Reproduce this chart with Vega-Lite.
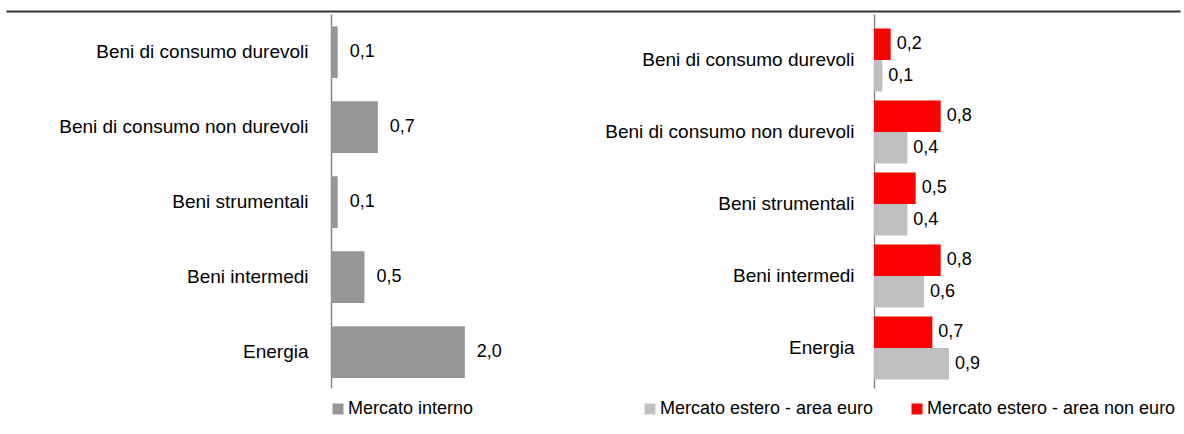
{
  "$schema": "https://vega.github.io/schema/vega-lite/v6.json",
  "padding": {"left": 6, "top": 11, "right": 0, "bottom": 0},
  "background": "white",
  "config": {
    "locale": {"number": {"decimal": ",", "thousands": ".", "grouping": [3], "currency": ["", " €"]}},
    "font": "Liberation Sans",
    "view": {"stroke": null}
  },
  "spacing": 2,
  "vconcat": [
    {
      "width": 1174,
      "height": 1,
      "data": {"values": []},
      "mark": "point",
      "encoding": {
        "x": {
          "field": "v", "type": "quantitative",
          "scale": {"domain": [0, 1]},
          "axis": {"orient": "top", "position": -325, "title": null, "labels": false, "ticks": false, "grid": false, "domainColor": "#333333", "domainWidth": 2}
        }
      }
    },
    {
      "spacing": 89,
      "resolve": {"scale": {"color": "independent"}, "legend": {"color": "independent"}},
      "hconcat": [
        {
          "width": 174,
          "height": 374,
          "data": {"values": [
            {"categoria": "Beni di consumo durevoli", "serie": "Mercato interno", "valore": 0.1},
            {"categoria": "Beni di consumo non durevoli", "serie": "Mercato interno", "valore": 0.7},
            {"categoria": "Beni strumentali", "serie": "Mercato interno", "valore": 0.1},
            {"categoria": "Beni intermedi", "serie": "Mercato interno", "valore": 0.5},
            {"categoria": "Energia", "serie": "Mercato interno", "valore": 2.0}
          ]},
          "encoding": {
            "y": {
              "field": "categoria", "type": "nominal",
              "sort": ["Beni di consumo durevoli", "Beni di consumo non durevoli", "Beni strumentali", "Beni intermedi", "Energia"],
              "scale": {"paddingInner": 0.31, "paddingOuter": 0.15, "align": 0.55},
              "axis": {"title": null, "ticks": false, "tickSize": 0, "labelPadding": 23, "labelFontSize": 19, "labelColor": "#000000", "labelLimit": 400, "domainColor": "#868686", "domainWidth": 1.5, "minExtent": 325, "maxExtent": 325, "grid": false}
            },
            "x": {"field": "valore", "type": "quantitative", "scale": {"domain": [0, 2.6], "nice": false}, "axis": null}
          },
          "layer": [
            {
              "mark": {"type": "bar"},
              "encoding": {
                "color": {
                  "field": "serie", "type": "nominal",
                  "scale": {"domain": ["Mercato interno"], "range": ["#969696"]},
                  "legend": {"title": null, "orient": "none", "legendX": -2, "legendY": 386, "direction": "horizontal", "symbolType": "square", "symbolSize": 121, "symbolStrokeWidth": 0, "labelFontSize": 18, "labelColor": "#000000", "labelOffset": 1, "padding": 0, "labelLimit": 400}
                }
              }
            },
            {
              "mark": {"type": "text", "align": "left", "baseline": "middle", "dx": 12, "fontSize": 18, "color": "#000000"},
              "encoding": {"text": {"field": "valore", "type": "quantitative", "format": ".1f"}}
            }
          ]
        },
        {
          "width": 100,
          "height": 374,
          "data": {"values": [
            {"categoria": "Beni di consumo durevoli", "serie": "Mercato estero - area non euro", "valore": 0.2},
            {"categoria": "Beni di consumo durevoli", "serie": "Mercato estero - area euro", "valore": 0.1},
            {"categoria": "Beni di consumo non durevoli", "serie": "Mercato estero - area non euro", "valore": 0.8},
            {"categoria": "Beni di consumo non durevoli", "serie": "Mercato estero - area euro", "valore": 0.4},
            {"categoria": "Beni strumentali", "serie": "Mercato estero - area non euro", "valore": 0.5},
            {"categoria": "Beni strumentali", "serie": "Mercato estero - area euro", "valore": 0.4},
            {"categoria": "Beni intermedi", "serie": "Mercato estero - area non euro", "valore": 0.8},
            {"categoria": "Beni intermedi", "serie": "Mercato estero - area euro", "valore": 0.6},
            {"categoria": "Energia", "serie": "Mercato estero - area non euro", "valore": 0.7},
            {"categoria": "Energia", "serie": "Mercato estero - area euro", "valore": 0.9}
          ]},
          "encoding": {
            "y": {
              "field": "categoria", "type": "nominal",
              "sort": ["Beni di consumo durevoli", "Beni di consumo non durevoli", "Beni strumentali", "Beni intermedi", "Energia"],
              "scale": {"paddingInner": 0.125, "paddingOuter": 0.16, "align": 0.63},
              "axis": {"title": null, "ticks": false, "tickSize": 0, "labelPadding": 20, "labelFontSize": 19, "labelColor": "#000000", "labelLimit": 400, "domainColor": "#868686", "domainWidth": 1.5, "minExtent": 280, "maxExtent": 280, "grid": false}
            },
            "yOffset": {"field": "serie", "type": "nominal", "sort": ["Mercato estero - area non euro", "Mercato estero - area euro"], "scale": {"paddingInner": 0, "paddingOuter": 0}},
            "x": {"field": "valore", "type": "quantitative", "scale": {"domain": [0, 1.2], "nice": false}, "axis": null}
          },
          "layer": [
            {
              "mark": {"type": "bar"},
              "encoding": {
                "color": {
                  "field": "serie", "type": "nominal",
                  "scale": {"domain": ["Mercato estero - area euro", "Mercato estero - area non euro"], "range": ["#C0C0C0", "#FF0000"]},
                  "legend": {"title": null, "orient": "none", "legendX": -233, "legendY": 386, "direction": "horizontal", "symbolType": "square", "symbolSize": 121, "symbolStrokeWidth": 0, "labelFontSize": 18, "labelColor": "#000000", "labelOffset": 1, "columnPadding": 34, "padding": 0, "labelLimit": 400}
                }
              }
            },
            {
              "mark": {"type": "text", "align": "left", "baseline": "middle", "dx": 6, "fontSize": 18, "color": "#000000"},
              "encoding": {"text": {"field": "valore", "type": "quantitative", "format": ".1f"}}
            }
          ]
        }
      ]
    }
  ]
}
